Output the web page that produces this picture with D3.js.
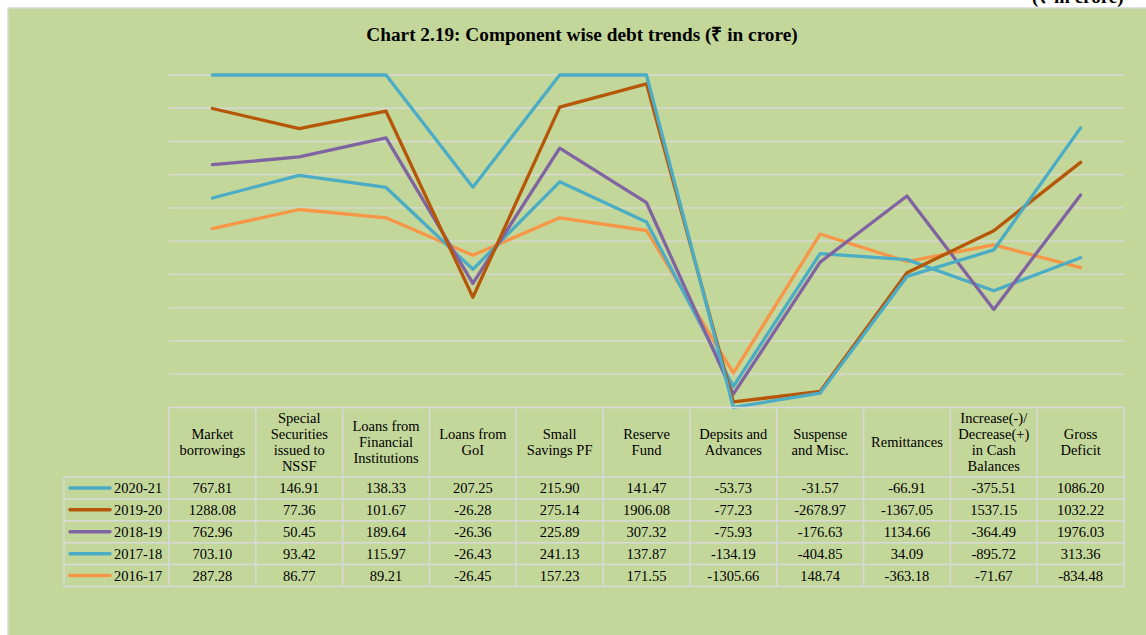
<!DOCTYPE html>
<html>
<head>
<meta charset="utf-8">
<script src="https://cdn.jsdelivr.net/npm/d3@7"></script>
<style>
  body { margin: 0; background: #fff; }
  text { font-family: "Liberation Serif", "Times New Roman", serif; fill: #000; }
</style>
</head>
<body>
<svg id="chart"></svg>
<script>
var width = 1146, height = 635

// categories (header cells of the data table, split into lines)
var categories = [
  ["Market", "borrowings"],
  ["Special", "Securities", "issued to", "NSSF"],
  ["Loans from", "Financial", "Institutions"],
  ["Loans from", "GoI"],
  ["Small", "Savings PF"],
  ["Reserve", "Fund"],
  ["Depsits and", "Advances"],
  ["Suspense", "and Misc."],
  ["Remittances"],
  ["Increase(-)/", "Decrease(+)", "in Cash", "Balances"],
  ["Gross", "Deficit"]
]

// series values (₹ in crore)
var y2020_21 = [767.81, 146.91, 138.33, 207.25, 215.90, 141.47, -53.73, -31.57, -66.91, -375.51, 1086.20]
var y2019_20 = [1288.08, 77.36, 101.67, -26.28, 275.14, 1906.08, -77.23, -2678.97, -1367.05, 1537.15, 1032.22]
var y2018_19 = [762.96, 50.45, 189.64, -26.36, 225.89, 307.32, -75.93, -176.63, 1134.66, -364.49, 1976.03]
var y2017_18 = [703.10, 93.42, 115.97, -26.43, 241.13, 137.87, -134.19, -404.85, 34.09, -895.72, 313.36]
var y2016_17 = [287.28, 86.77, 89.21, -26.45, 157.23, 171.55, -1305.66, 148.74, -363.18, -71.67, -834.48]

// table order (top to bottom) ; stacking goes the other way
var seriesNames = ["2020-21", "2019-20", "2018-19", "2017-18", "2016-17"]
var seriesValues = [y2020_21, y2019_20, y2018_19, y2017_18, y2016_17]
var colors = ["#4bacc6", "#b65708", "#8064a2", "#4bacc6", "#f79646"]

var gridTicks = [1, 0.8, 0.6, 0.4, 0.2, 0, -0.2, -0.4, -0.6, -0.8]

var svg = d3.select("#chart")
  .attr("width", width)
  .attr("height", height)

// page furniture (the unit note is cut by the page edge, as in the source)
svg.append("text")
  .attr("x", 1032).attr("y", 3)
  .style("font-size", "19px").style("font-weight", "bold")
  .text("(₹ in crore)")

svg.append("rect")
  .attr("x", 8).attr("y", 8)
  .attr("width", width + 10).attr("height", height + 10)
  .attr("fill", "#c4d79b")
  .attr("stroke", "#d9d9d9").attr("stroke-width", 1.5)

svg.append("text")
  .attr("x", 582).attr("y", 41)
  .attr("text-anchor", "middle")
  .style("font-size", "19.3px").style("font-weight", "bold")
  .text("Chart 2.19: Component wise debt trends (₹ in crore)")

var plotLeft = 169, plotRight = 1124, plotTop = 75, plotBottom = 407.4

var x = d3.scaleBand()
  .domain(d3.range(categories.length))
  .range([plotLeft, plotRight])

var y = d3.scaleLinear()
  .domain([-1, 1])
  .range([plotBottom, plotTop])

// gridlines
svg.append("g")
  .selectAll("line")
  .data(gridTicks)
  .enter().append("line")
  .attr("x1", plotLeft).attr("x2", plotRight)
  .attr("y1", function(d) { return y(d) })
  .attr("y2", function(d) { return y(d) })
  .attr("stroke", "#d9d9d9").attr("stroke-width", 1.3)

// 100% stacked lines, normalised by the sum of absolute values
var absSum = categories.map(function(c, i) {
  return d3.sum(seriesValues, function(s) { return Math.abs(s[i]) })
})
var stacked = []
var running = categories.map(function() { return 0 })
for (var k = seriesValues.length - 1; k >= 0; k--) {
  running = running.map(function(r, i) { return r + seriesValues[k][i] })
  stacked[k] = running.map(function(r, i) { return r / absSum[i] })
}

var line = d3.line()
  .x(function(d, i) { return x(i) + x.bandwidth() / 2 })
  .y(function(d) { return y(d) })

var order = [4, 3, 2, 1, 0]
svg.append("g")
  .selectAll("path")
  .data(order)
  .enter().append("path")
  .attr("d", function(k) { return line(stacked[k]) })
  .attr("fill", "none")
  .attr("stroke", function(k) { return colors[k] })
  .attr("stroke-width", 3.3)
  .attr("stroke-linejoin", "round")
  .attr("stroke-linecap", "round")

// data table
var headTop = plotBottom, headBottom = 477, rowH = 21.9
var legendLeft = 64
var tableBottom = headBottom + rowH * seriesNames.length
var border = "#d9d9d9"
var table = svg.append("g")

// horizontal rules
table.append("line")
  .attr("x1", plotLeft).attr("x2", plotRight)
  .attr("y1", headTop).attr("y2", headTop)
  .attr("stroke", border).attr("stroke-width", 1.5)
d3.range(seriesNames.length + 1).forEach(function(r) {
  var yy = headBottom + r * rowH
  table.append("line")
    .attr("x1", legendLeft).attr("x2", plotRight)
    .attr("y1", yy).attr("y2", yy)
    .attr("stroke", border).attr("stroke-width", 1.5)
})
// vertical rules
table.append("line")
  .attr("x1", legendLeft).attr("x2", legendLeft)
  .attr("y1", headBottom).attr("y2", tableBottom)
  .attr("stroke", border).attr("stroke-width", 1.5)
d3.range(categories.length + 1).forEach(function(i) {
  var xx = plotLeft + i * x.step()
  table.append("line")
    .attr("x1", xx).attr("x2", xx)
    .attr("y1", headTop).attr("y2", tableBottom)
    .attr("stroke", border).attr("stroke-width", 1.5)
})

// header text
categories.forEach(function(lines, i) {
  var cx = x(i) + x.bandwidth() / 2
  var mid = (headTop + headBottom) / 2
  var t = table.append("text")
    .attr("text-anchor", "middle")
    .style("font-size", "14.5px")
  lines.forEach(function(l, j) {
    t.append("tspan")
      .attr("x", cx)
      .attr("y", mid + (j - (lines.length - 1) / 2) * 16.1 + 5)
      .text(l)
  })
})

// rows
seriesNames.forEach(function(name, r) {
  var cy = headBottom + r * rowH + rowH / 2
  table.append("line")
    .attr("x1", 70).attr("x2", 110)
    .attr("y1", cy).attr("y2", cy)
    .attr("stroke", colors[r]).attr("stroke-width", 3.5)
    .attr("stroke-linecap", "round")
  table.append("text")
    .attr("x", 114).attr("y", cy + 5)
    .style("font-size", "14.5px")
    .text(name)
  seriesValues[r].forEach(function(v, i) {
    table.append("text")
      .attr("x", x(i) + x.bandwidth() / 2)
      .attr("y", cy + 5)
      .attr("text-anchor", "middle")
      .style("font-size", "14.5px")
      .text(v.toFixed(2))
  })
})
</script>
</body>
</html>
